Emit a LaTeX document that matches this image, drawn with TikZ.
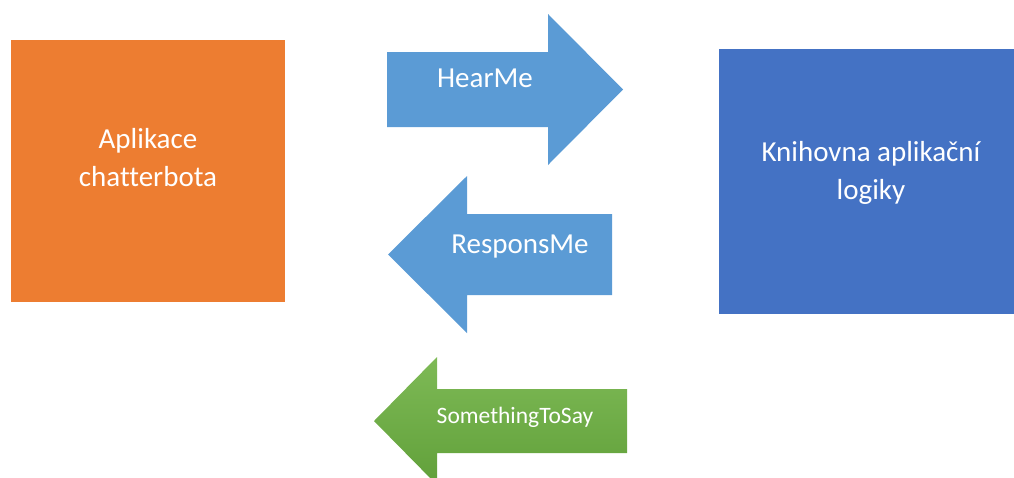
\documentclass[tikz,border=0pt]{standalone}
\usepackage{fontspec}
\setmainfont{Carlito}[Ligatures=NoCommon]
\usetikzlibrary{positioning}
\definecolor{AppOrange}{HTML}{ED7D31}
\definecolor{LibBlue}{HTML}{4472C4}
\definecolor{CallBlue}{HTML}{5B9BD5}
\definecolor{SayGreenTop}{HTML}{7EBA56}
\definecolor{SayGreenBottom}{HTML}{61A03A}

\tikzset{
    block/.style={draw=none, anchor=north west, inner sep=0pt},
    blocktext/.style={text=white, align=center, inner sep=0pt,
        font=\fontsize{29}{38}\selectfont},
    calltext/.style={text=white, anchor=base, inner sep=0pt,
        font=\fontsize{29}{35}\selectfont},
}

\begin{document}
\begin{tikzpicture}[x=1pt, y=-1pt]
\useasboundingbox (0,0) rectangle (1014,477);

% the two sides
\node[block, fill=AppOrange, minimum width=274pt, minimum height=262pt] (app) at (11,40) {};
\node[block, fill=LibBlue, minimum width=295pt, minimum height=265pt] (lib) at (719,49) {};
\node[blocktext] (apptext) at (148,158) {Aplikace\\chatterbota};
\node[blocktext] (libtext) at (871,173) {Knihovna aplikační\\logiky};

% calls between them
\fill[CallBlue] (387,52) -- (548,52) -- (548,14) -- (623,89.5) -- (548,165)
    -- (548,127) -- (387,127) -- cycle;
\fill[CallBlue] (612,214) -- (467,214) -- (467,176) -- (388,254.5) -- (467,333)
    -- (467,295) -- (612,295) -- cycle;
\shade[top color=SayGreenTop, bottom color=SayGreenBottom]
    (627,389) -- (437,389) -- (437,357) -- (374,421) -- (437,485)
    -- (437,453) -- (627,453) -- cycle;

\node[calltext] (hear) at (485,87) {HearMe};
\node[calltext] (respons) at (520,253) {ResponsMe};
\node[calltext, font=\fontsize{23.5}{28}\selectfont] (say) at (515,423) {SomethingToSay};
\end{tikzpicture}
\end{document}
